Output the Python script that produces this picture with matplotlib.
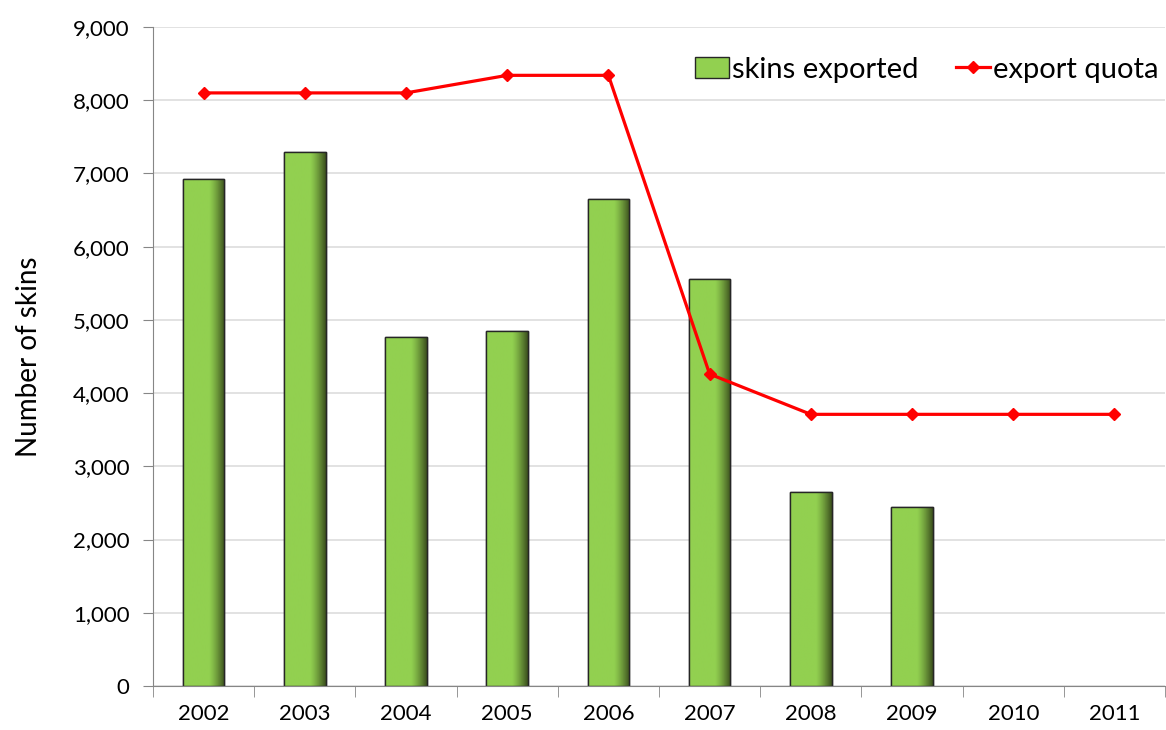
import matplotlib
matplotlib.use("Agg")
import matplotlib.pyplot as plt
import numpy as np
from matplotlib.ticker import FuncFormatter, MultipleLocator
from matplotlib.lines import Line2D
from matplotlib.patches import Patch

plt.rcParams['font.family'] = ['Lato', 'DejaVu Sans']

years = ['2002', '2003', '2004', '2005', '2006', '2007', '2008', '2009', '2010', '2011']
skins_exported = [6920, 7290, 4760, 4850, 6650, 5560, 2650, 2445, np.nan, np.nan]
export_quota = [8100, 8100, 8100, 8340, 8340, 4260, 3710, 3710, 3710, 3710]

fig = plt.figure(figsize=(11.66, 7.30), dpi=100)
ax = fig.add_axes([0.1312, 0.0603, 0.868, 0.9027])

x = np.arange(len(years))
bar_w = 0.41

# horizontal gradient for the bar fill: flat green, darker toward right edge
t = np.linspace(0, 1, 64)
base = np.array([0x92, 0xD0, 0x50]) / 255
dark = np.array([0x3C, 0x50, 0x1E]) / 255
w = np.clip((t - 0.62) / 0.38, 0, 1) ** 1.3
grad = (base[None, :] * (1 - w[:, None]) + dark[None, :] * w[:, None])[None, :, :]

bars = ax.bar(x, skins_exported, width=bar_w, color='#92D050', edgecolor='#262626',
              linewidth=1.0, zorder=2)
for b in bars:
    h = b.get_height()
    if not np.isfinite(h) or h == 0:
        continue
    im = ax.imshow(grad, extent=(b.get_x(), b.get_x() + b.get_width(), 0, h),
                   aspect='auto', zorder=2.1, interpolation='bilinear')
    im.set_clip_path(b)
    ax.add_patch(plt.Rectangle((b.get_x(), 0), b.get_width(), h, fill=False,
                               edgecolor='#262626', linewidth=1.0, zorder=2.2))

ax.plot(x, export_quota, color='#FF0000', linewidth=2.3, marker='D', markersize=6,
        zorder=3)

ax.set_xlim(-0.5, len(years) - 0.5)
ax.set_ylim(0, 9000)
ax.yaxis.set_major_locator(MultipleLocator(1000))
ax.yaxis.set_major_formatter(FuncFormatter(lambda v, p: f'{int(v):,}'))
ax.grid(axis='y', color='#DDDDDD', linewidth=1.2, zorder=0)
ax.set_axisbelow(True)

ax.set_xticks(x)
ax.set_xticklabels(years)
ax.set_xticks(np.arange(-0.5, len(years)), minor=True)
ax.tick_params(axis='x', which='major', length=0, pad=13, labelsize=16)
ax.tick_params(axis='x', which='minor', length=8, direction='out', color='#868686')
ax.tick_params(axis='y', length=7, direction='out', color='#868686', labelsize=16, pad=10)

for s in ['top', 'right']:
    ax.spines[s].set_visible(False)
ax.spines['left'].set_color('#868686')
ax.spines['bottom'].set_color('#868686')

ax.set_ylabel('Number of skins', fontsize=20, labelpad=22)

handles = [Patch(facecolor='#92D050', edgecolor='#262626', label='skins exported'),
           Line2D([], [], color='#FF0000', linewidth=2.3, marker='D', markersize=6,
                  label='export quota')]
ax.legend(handles=handles, loc='upper right', bbox_to_anchor=(1.019, 0.995), ncol=2,
          frameon=False, fontsize=21, handlelength=1.15, handletextpad=0.1,
          columnspacing=1.3)

fig.savefig('out.png', dpi=100)
